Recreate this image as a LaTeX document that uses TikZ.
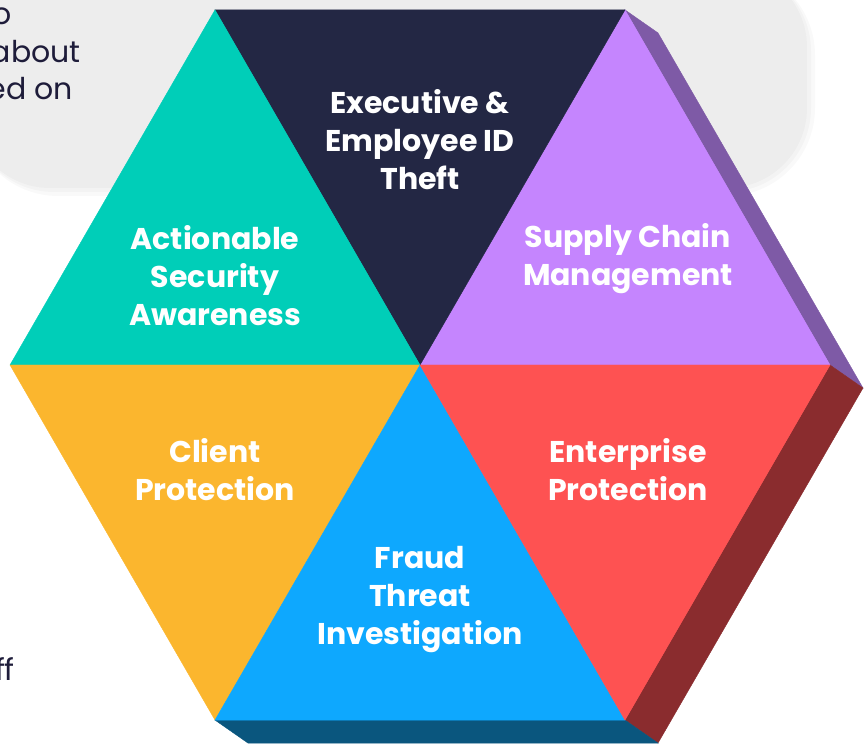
\documentclass[tikz,border=0pt]{standalone}
\usepackage{fontspec}
\setmainfont{Poppins}
\usepackage{xcolor}
\usetikzlibrary{positioning}
\definecolor{awarecol}{HTML}{00CEB8}
\definecolor{execcol}{HTML}{232744}
\definecolor{supplycol}{HTML}{C585FE}
\definecolor{clientcol}{HTML}{FBB62E}
\definecolor{fraudcol}{HTML}{0EA8FE}
\definecolor{entercol}{HTML}{FE5252}
\definecolor{supplyside}{HTML}{7E5AA6}
\definecolor{enterside}{HTML}{8A2C2E}
\definecolor{fraudside}{HTML}{0A567E}
\definecolor{notebox}{HTML}{EDEDED}
\definecolor{notetext}{HTML}{1E1C3A}
\def\hexside{410}

\begin{document}
\begin{tikzpicture}[x=1pt, y=1pt]
    \tikzstyle{topic}=[text=white, align=center, inner sep=0pt, font=\bfseries\fontsize{30}{38}\selectfont]
    \tikzstyle{note}=[text=notetext, inner sep=0pt, anchor=base east, font=\fontsize{30}{37}\selectfont]
    \tikzstyle{side}=[line width=0.4pt]

    \useasboundingbox (0,0) rectangle (864,747);
    \clip (0,0) rectangle (864,747);

    % Draw the note box behind the hexagon
    \fill[black, opacity=0.025, rounded corners=88] (-30,551) rectangle (815,780);
    \fill[black, opacity=0.025, rounded corners=84] (-30,555) rectangle (811,780);
    \fill[notebox, rounded corners=80] (-30,559) rectangle (807,780);
    \node[note] (note-1) at (12,722) {o};
    \node[note] (note-2) at (81,684) {about};
    \node[note] (note-3) at (73,647) {ed on};
    \node[note] (note-4) at (15,67) {ff};

    % Corners of the hexagon
    \coordinate (C) at (420,382);
    \foreach \k in {0,...,6}
        \path (C) ++(60*\k:\hexside) coordinate (V-\k);

    % Draw the extruded sides
    \foreach \a/\b/\col in {1/0/supplyside, 0/5/enterside, 5/4/fraudside}
        \fill[side, \col, draw=\col] (V-\a) -- (V-\b) -- ([shift={(33,-23)}]V-\b)
            -- ([shift={(33,-23)}]V-\a) -- cycle;

    % Draw the six triangles
    \foreach \k/\col [evaluate=\k as \next using int(\k+1)] in
        {0/supplycol, 1/execcol, 2/awarecol, 3/clientcol, 4/fraudcol, 5/entercol}
        \fill[side, \col, draw=\col] (C) -- (V-\k) -- (V-\next) -- cycle;

    % Labels of the triangles
    \node[topic] (exec) at (420,607) {Executive \&\\Employee ID\\Theft};
    \node[topic] (aware) at (215,471) {Actionable\\Security\\Awareness};
    \node[topic] (supply) at (628,488) {Supply Chain\\Management};
    \node[topic] (client) at (215,277) {Client\\Protection};
    \node[topic] (enter) at (628,277) {Enterprise\\Protection};
    \node[topic] (fraud) at (420,147) {Fraud\\Threat\\Investigation};
\end{tikzpicture}
\end{document}
